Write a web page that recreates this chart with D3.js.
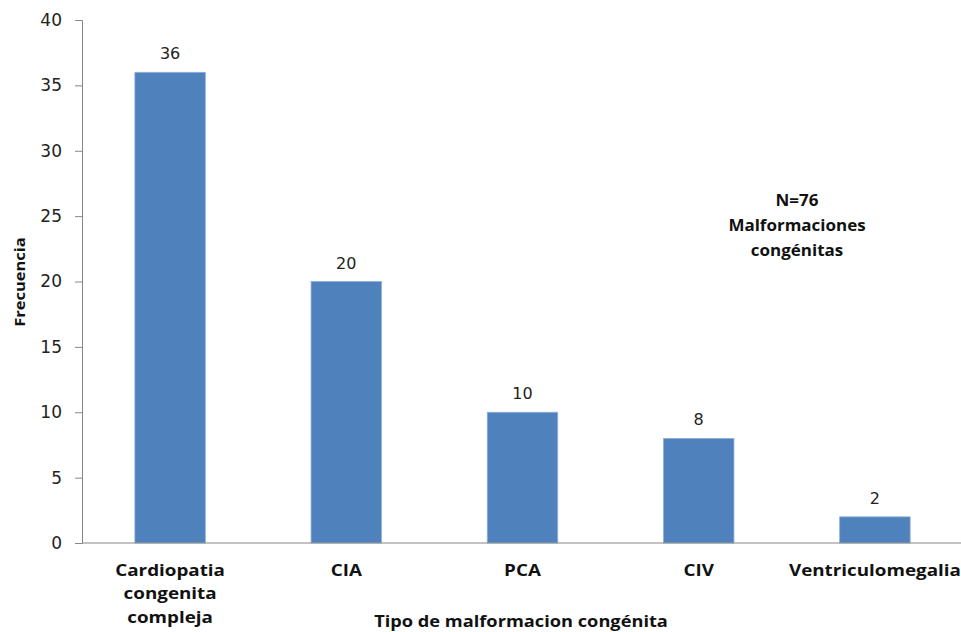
<!DOCTYPE html>
<html>
<head>
<meta charset="utf-8">
<script src="https://cdn.jsdelivr.net/npm/d3@7"></script>
<style>
  html, body { margin: 0; padding: 0; background: #fff; }
  svg { display: block; }
</style>
</head>
<body>
<svg id="chart" width="961" height="632"></svg>
<script>
// Frecuencia por tipo de malformación congénita
const categories = [["Cardiopatia", "congenita", "compleja"], ["CIA"], ["PCA"], ["CIV"], ["Ventriculomegalia"]];
const values = [36, 20, 10, 8, 2];
const yTicks = [0, 5, 10, 15, 20, 25, 30, 35, 40];
const annotation = ["N=76", "Malformaciones", "congénitas"];
const xTitle = "Tipo de malformacion congénita";
const yTitle = "Frecuencia";

const svg = d3.select("#chart");
const plot = { left: 82, right: 963, top: 20, bottom: 543 };
const numFont = "'DejaVu Sans', Verdana, sans-serif";
const boldFont = "'Open Sans', Calibri, sans-serif";

const keys = categories.map((c, i) => i);
const x = d3.scaleBand().domain(keys).range([plot.left, plot.right]).paddingInner(0.6).paddingOuter(0.3);
const y = d3.scaleLinear().domain([0, 40]).range([plot.bottom, plot.top]);

// multi-line bold label, optionally widened
function boldLabel(parent, cx, cy, lines, size, gap, rotate, sx) {
  const g = parent.append("g")
    .attr("transform", `translate(${cx},${cy})` + (rotate ? " rotate(-90)" : "") + ` scale(${sx},1)`);
  const t = g.append("text")
    .attr("text-anchor", "middle")
    .attr("font-family", boldFont).attr("font-weight", "bold")
    .attr("font-size", size).attr("fill", "#111");
  lines.forEach((ln, j) => {
    t.append("tspan").attr("x", 0).attr("dy", j === 0 ? 0 : gap).text(ln);
  });
  return g;
}

// y axis
const yAxis = svg.append("g")
  .attr("transform", `translate(${plot.left},0)`)
  .call(d3.axisLeft(y).tickValues(yTicks).tickSize(7).tickPadding(13));
yAxis.select(".domain").attr("stroke", "#868686");
yAxis.selectAll(".tick line").attr("stroke", "#868686");
yAxis.selectAll(".tick text")
  .attr("font-family", numFont).attr("font-size", 17).attr("fill", "#222");

// bars
svg.append("g").selectAll("rect")
  .data(values)
  .join("rect")
  .attr("x", (d, i) => x(i))
  .attr("width", x.bandwidth())
  .attr("y", d => y(d))
  .attr("height", d => y(0) - y(d))
  .attr("fill", "#4F81BD")
  .attr("stroke", "#8FB0D8")
  .attr("stroke-width", 0.8);

// value labels
svg.append("g").selectAll("text")
  .data(values)
  .join("text")
  .attr("x", (d, i) => x(i) + x.bandwidth() / 2)
  .attr("y", d => y(d) - 13)
  .attr("text-anchor", "middle")
  .attr("font-family", numFont).attr("font-size", 16).attr("fill", "#222")
  .text(d => d);

// x axis line
svg.append("line")
  .attr("x1", plot.left).attr("x2", 961)
  .attr("y1", plot.bottom).attr("y2", plot.bottom)
  .attr("stroke", "#868686");

// category labels
const catG = svg.append("g");
categories.forEach((lines, i) => {
  boldLabel(catG, x(i) + x.bandwidth() / 2, 576, lines, 16.5, 23.5, false, 1.14);
});

// axis titles
boldLabel(svg, 521, 627, [xTitle], 16, 0, false, 1.14);
boldLabel(svg, 25, 282, [yTitle], 15, 0, true, 1.1);

// annotation
boldLabel(svg, 797, 206, annotation, 16.5, 25, false, 1.03);
</script>
</body>
</html>
